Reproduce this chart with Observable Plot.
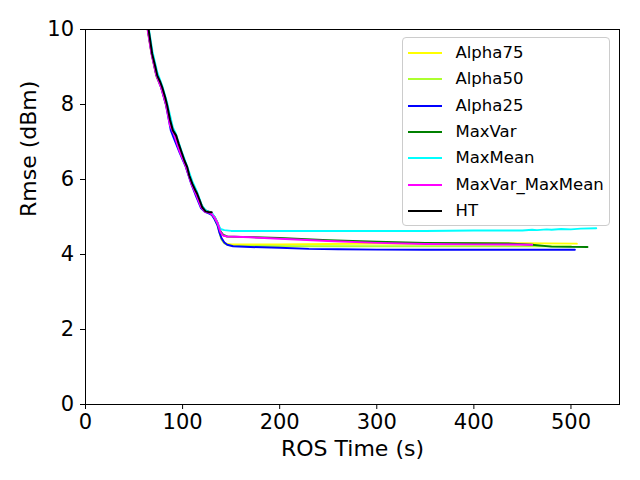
<!DOCTYPE html>
<html>
<head>
<meta charset="utf-8">
<script src="https://cdn.jsdelivr.net/npm/d3@7"></script>
<script src="https://cdn.jsdelivr.net/npm/@observablehq/plot@0.6"></script>
<style>
  html, body { margin: 0; padding: 0; background: #fff; }
  #wrap { position: relative; width: 640px; height: 480px; font-family: "DejaVu Sans", sans-serif; }
  #legend { position: absolute; left: 401.5px; top: 37px; width: 208px; height: 189px;
    border: 1px solid #cccccc; border-radius: 4px; background: rgba(255,255,255,0.8); box-sizing: border-box; }
  .row { position: absolute; left: 0; height: 26px; width: 100%; }
  .swatch { position: absolute; left: 5px; width: 34px; height: 2px; top: 12px; }
  .lab { position: absolute; left: 53px; top: 0; line-height: 26px; font-size: 16.5px; color: #000; white-space: nowrap; }
</style>
</head>
<body>
<div id="wrap"></div>
<script>
// Series names and colours (legend order = drawing order)
const seriesNames = ["Alpha75", "Alpha50", "Alpha25", "MaxVar", "MaxMean", "MaxVar_MaxMean", "HT"];
const seriesColors = ["yellow", "#adff2f", "blue", "green", "cyan", "magenta", "black"];

// Tick labels
const xTicks = [0, 100, 200, 300, 400, 500];
const yTicks = [0, 2, 4, 6, 8, 10];

// [ROS time (s), RMSE (dBm)]
const alpha75 = [[61,10.6],[64,10.05],[68,9.4],[73,8.8],[78,8.5],[83,8.05],[89,7.35],[92,7.2],[98,6.75],[103,6.4],[109,5.92],[114,5.65],[119,5.3],[123,5.16],[127,5.12],[130,5.08],[133,4.96],[136,4.8],[138,4.62],[140,4.43],[142,4.34],[145,4.29],[150,4.27],[200,4.27],[250,4.28],[300,4.29],[350,4.29],[400,4.3],[450,4.3],[506,4.29]];
const alpha50 = [[61,10.55],[64,10.0],[68,9.35],[73,8.75],[78,8.45],[83,8.0],[88,7.4],[92,7.15],[98,6.72],[103,6.38],[109,5.9],[114,5.62],[119,5.28],[123,5.15],[127,5.12],[130,5.08],[133,4.95],[136,4.78],[138,4.6],[140,4.4],[143,4.3],[147,4.25],[152,4.23],[200,4.22],[250,4.22],[300,4.22],[350,4.22],[400,4.22],[450,4.22],[500,4.22]];
const alpha25 = [[61,10.6],[64,10.05],[68,9.38],[73,8.78],[78,8.45],[83,7.98],[88,7.3],[91,7.1],[97,6.72],[103,6.36],[109,5.88],[114,5.55],[119,5.24],[123,5.14],[127,5.1],[130,5.06],[133,4.94],[136,4.78],[138,4.58],[140,4.44],[143,4.32],[146,4.26],[152,4.22],[170,4.2],[200,4.18],[230,4.15],[260,4.14],[300,4.13],[350,4.13],[400,4.13],[450,4.13],[504,4.13]];
const maxVar = [[61,10.6],[64,10.03],[68,9.4],[73,8.8],[78,8.5],[83,8.02],[89,7.35],[92,7.2],[98,6.78],[103,6.42],[109,5.95],[114,5.68],[119,5.34],[123,5.18],[127,5.14],[130,5.1],[133,5.0],[136,4.84],[139,4.62],[142,4.52],[146,4.48],[160,4.47],[200,4.44],[250,4.38],[300,4.34],[350,4.31],[400,4.3],[440,4.29],[460,4.26],[480,4.21],[517,4.2]];
const maxMean = [[62,10.6],[65,10.05],[69,9.4],[74,8.85],[79,8.5],[84,8.05],[90,7.38],[93,7.22],[99,6.75],[104,6.4],[110,5.95],[115,5.66],[120,5.3],[124,5.17],[128,5.13],[131,5.08],[134,4.95],[137,4.78],[139,4.68],[143,4.65],[150,4.63],[200,4.63],[250,4.63],[300,4.63],[350,4.63],[400,4.64],[450,4.64],[460,4.66],[465,4.65],[475,4.67],[480,4.66],[490,4.68],[500,4.67],[510,4.69],[526,4.7]];
const maxVarMaxMean = [[61,10.55],[64,10.0],[68,9.36],[73,8.78],[78,8.45],[83,8.0],[87,7.45],[91,7.22],[97,6.75],[103,6.38],[109,5.9],[114,5.6],[119,5.27],[123,5.14],[127,5.12],[130,5.08],[133,4.98],[136,4.84],[139,4.6],[142,4.5],[146,4.48],[170,4.46],[200,4.42],[250,4.36],[300,4.31],[350,4.28],[400,4.27],[460,4.26]];
const ht = [[62,10.5],[65,10.0],[68.7,9.35],[72,9.0],[74,8.77],[77,8.6],[79,8.46],[82,8.2],[84.2,7.97],[87,7.6],[90,7.31],[93.4,7.17],[96,6.95],[99.6,6.68],[102,6.5],[104.8,6.33],[107,6.1],[110,5.89],[113,5.72],[115,5.62],[118,5.42],[120.2,5.26],[123.7,5.15],[127,5.13],[130,5.13]];

const seriesData = [alpha75, alpha50, alpha25, maxVar, maxMean, maxVarMaxMean, ht];

const rows = seriesData.flatMap((arr, i) => arr.map(([t, v]) => ({series: seriesNames[i], t, v})));

const font = "DejaVu Sans";
const chart = Plot.plot({
  width: 640,
  height: 480,
  marginLeft: 85,
  marginRight: 21,
  marginTop: 29,
  marginBottom: 76,
  style: {fontFamily: font, background: "white", color: "black"},
  x: {domain: [0, 550]},
  y: {domain: [0, 10]},
  color: {domain: seriesNames, range: seriesColors},
  marks: [
    ...seriesNames.map(name => Plot.line(rows.filter(d => d.series === name), {
      x: "t", y: "v", stroke: "series", strokeWidth: 2, clip: "frame"
    })),
    Plot.frame({stroke: "black", strokeWidth: 1}),
    Plot.axisX({ticks: xTicks, tickSize: 5, tickPadding: 5, fontSize: 21, label: null, stroke: "black", strokeOpacity: 1}),
    Plot.axisY({ticks: yTicks, tickSize: 5, tickPadding: 6.5, fontSize: 21, label: null, stroke: "black", strokeOpacity: 1}),
    Plot.text(["ROS Time (s)"], {frameAnchor: "bottom", dy: 44, fontSize: 22, fill: "black", lineAnchor: "middle"}),
    Plot.text(["Rmse (dBm)"], {frameAnchor: "left", dx: -57, rotate: -90, fontSize: 22, fill: "black", lineAnchor: "middle"})
  ]
});

const wrap = document.getElementById("wrap");
wrap.appendChild(chart);

const legend = document.createElement("div");
legend.id = "legend";
seriesNames.forEach((name, i) => {
  const row = document.createElement("div");
  row.className = "row";
  row.style.top = (2 + i * 26.3) + "px";
  const sw = document.createElement("div");
  sw.className = "swatch";
  sw.style.background = seriesColors[i];
  const lab = document.createElement("div");
  lab.className = "lab";
  lab.textContent = name;
  row.appendChild(sw);
  row.appendChild(lab);
  legend.appendChild(row);
});
wrap.appendChild(legend);
</script>
</body>
</html>
